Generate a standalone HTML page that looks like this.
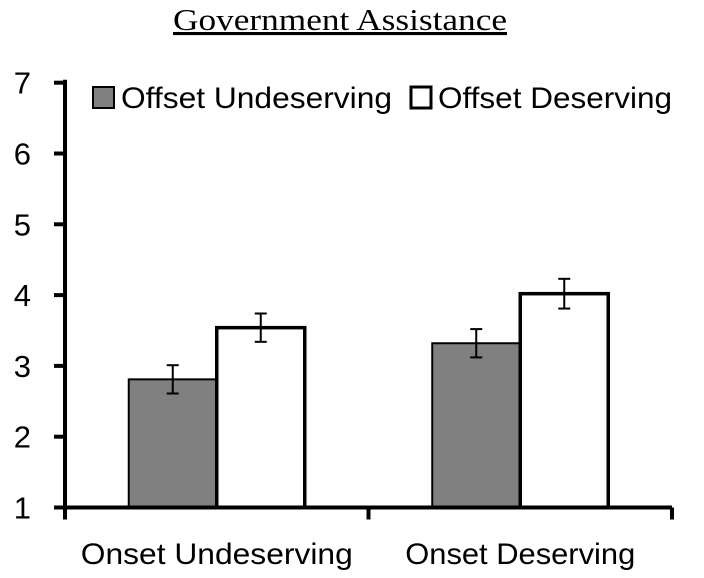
<!DOCTYPE html>
<html><head><meta charset="utf-8"><style>
html,body{margin:0;padding:0;background:#fff;}
svg{display:block;}
text{font-family:"Liberation Sans","DejaVu Sans",sans-serif;fill:#000;}
</style></head><body>
<svg id="chart" width="704" height="578">
<text x="340" y="30" text-anchor="middle" textLength="334" lengthAdjust="spacingAndGlyphs" style="font-family:'Liberation Serif',serif;font-size:31px;text-decoration:underline">Government Assistance</text>
<g id="bars"></g>
<g id="axes"></g>
<g>
<rect x="93" y="87" width="21" height="21" fill="#808080" stroke="#000" stroke-width="2"/>
<text x="121" y="108" font-size="30" textLength="271" lengthAdjust="spacingAndGlyphs">Offset Undeserving</text>
<rect x="411" y="87" width="20" height="21" fill="#fff" stroke="#000" stroke-width="3"/>
<text x="438" y="108" font-size="30" textLength="234" lengthAdjust="spacingAndGlyphs">Offset Deserving</text>
</g>
</svg>
<script>
const categories=["Onset Undeserving","Onset Deserving"];
const undeserving=[2.81,3.32];
const deserving=[3.54,4.02];
const errUndeserving=[0.2,0.2];
const errDeserving=[0.2,0.21];
const yTicks=[1,2,3,4,5,6,7];
const NS="http://www.w3.org/2000/svg";
const y0=507.5,unit=70.8,xL=65,xR=672;
function Y(v){return y0-(v-1)*unit;}
function X(i){return xL+(xR-xL)*(i+0.5)/categories.length;}
function mk(t,a,p){const e=document.createElementNS(NS,t);for(const k in a)e.setAttribute(k,a[k]);p.appendChild(e);return e;}
const bars=document.getElementById('bars'),axes=document.getElementById('axes');
const bw=88;
const labelW=[272,230];
categories.forEach((c,i)=>{
  const cx=X(i);
  [[undeserving,errUndeserving,'#808080',2,-1,'undeserving'],[deserving,errDeserving,'#fff',3.5,0,'deserving']].forEach(s=>{
    const v=s[0][i],x=cx+s[4]*bw;
    const r=mk('rect',{x:x,y:Y(v),width:bw,height:y0-Y(v),fill:s[2],stroke:'#000','stroke-width':s[3]},bars);
    
    
    const m=x+bw/2,e=s[1][i];
    const g=mk('g',{stroke:'#000','stroke-width':2},bars);
    
    
    mk('line',{x1:m,x2:m,y1:Y(v+e),y2:Y(v-e)},g);
    mk('line',{x1:m-6,x2:m+6,y1:Y(v+e),y2:Y(v+e)},g);
    mk('line',{x1:m-6,x2:m+6,y1:Y(v-e),y2:Y(v-e)},g);
  });
  const t=mk('text',{x:cx,y:564,'text-anchor':'middle','font-size':30,textLength:labelW[i],lengthAdjust:'spacingAndGlyphs'},axes);
  t.textContent=c;
  
  
});
const ya=mk('line',{x1:xL,x2:xL,y1:Y(7)-3,y2:y0+12,stroke:'#000','stroke-width':4},axes);


const xa=mk('line',{x1:xL-11,x2:xR,y1:y0,y2:y0,stroke:'#000','stroke-width':4},axes);


yTicks.forEach(v=>{
  mk('line',{x1:xL-11,x2:xL,y1:Y(v),y2:Y(v),stroke:'#000','stroke-width':4},axes);
  const t=mk('text',{x:31,y:Y(v)+11,'text-anchor':'end','font-size':31},axes);
  t.textContent=v;
  
  
});
for(let i=0;i<=categories.length;i++){
  const x=xL+(xR-xL)*i/categories.length;
  mk('line',{x1:x,x2:x,y1:y0,y2:y0+12,stroke:'#000','stroke-width':4},axes);
}
</script>
</body></html>
